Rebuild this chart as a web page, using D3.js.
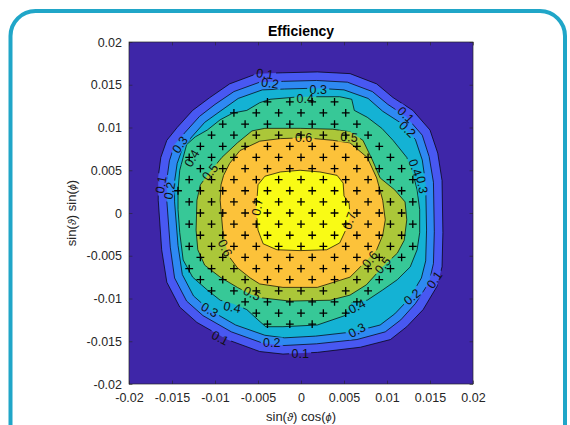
<!DOCTYPE html>
<html>
<head>
<meta charset="utf-8">
<script src="https://cdn.jsdelivr.net/npm/d3@7"></script>
<style>
body { margin: 0; background: #fff; }
text { font-family: "Liberation Sans", Arial, Helvetica, sans-serif; }
</style>
</head>
<body>
<svg id="chart" width="570" height="425"></svg>
<script>
// contour levels and the parula colour of each filled band (below 0.1 ... above 0.7)
const levels = [0.1, 0.2, 0.3, 0.4, 0.5, 0.6, 0.7];
const bandColors = ["#3e26a8", "#4858f2", "#2e89f2", "#14b2d4", "#37c897", "#abc739", "#fcc23a", "#f9fb15"];

// contour lines, [sin(t)cos(p), sin(t)sin(p)]
const contour01 = [[-0.0051,0.0163],[-0.0021,0.0164],[0.0019,0.0165],[0.0057,0.0163],[0.0088,0.0151],[0.0107,0.0135],
  [0.0130,0.0120],[0.0150,0.0097],[0.0159,0.0070],[0.0164,0.0038],[0.0165,-0.0023],[0.0164,-0.0063],[0.0158,-0.0086],
  [0.0142,-0.0113],[0.0123,-0.0133],[0.0104,-0.0148],[0.0069,-0.0157],[0.0019,-0.0163],[-0.0021,-0.0165],[-0.0048,-0.0162],
  [-0.0086,-0.0148],[-0.0121,-0.0128],[-0.0141,-0.0110],[-0.0156,-0.0081],[-0.0162,-0.0043],[-0.0166,0.0015],[-0.0166,0.0042],
  [-0.0163,0.0065],[-0.0156,0.0085],[-0.0144,0.0100],[-0.0126,0.0120],[-0.0106,0.0135],[-0.0083,0.0151]];
const contour02 = [[-0.0048,0.0153],[-0.0020,0.0154],[0.0018,0.0155],[0.0054,0.0153],[0.0083,0.0142],[0.0101,0.0127],
  [0.0122,0.0113],[0.0141,0.0091],[0.0149,0.0066],[0.0154,0.0036],[0.0155,-0.0022],[0.0154,-0.0059],[0.0149,-0.0081],
  [0.0133,-0.0106],[0.0116,-0.0125],[0.0098,-0.0139],[0.0065,-0.0148],[0.0018,-0.0153],[-0.0020,-0.0155],[-0.0045,-0.0152],
  [-0.0081,-0.0139],[-0.0114,-0.0120],[-0.0133,-0.0103],[-0.0147,-0.0076],[-0.0152,-0.0040],[-0.0156,0.0014],[-0.0156,0.0039],
  [-0.0153,0.0061],[-0.0147,0.0080],[-0.0135,0.0094],[-0.0118,0.0113],[-0.0100,0.0127],[-0.0078,0.0142]];
const contour03 = [[-0.0045,0.0144],[-0.0019,0.0145],[0.0017,0.0146],[0.0050,0.0144],[0.0078,0.0134],[0.0095,0.0119],
  [0.0115,0.0106],[0.0133,0.0086],[0.0141,0.0062],[0.0145,0.0034],[0.0146,-0.0020],[0.0145,-0.0056],[0.0140,-0.0076],
  [0.0126,-0.0100],[0.0109,-0.0118],[0.0092,-0.0131],[0.0061,-0.0139],[0.0017,-0.0144],[-0.0019,-0.0146],[-0.0042,-0.0143],
  [-0.0076,-0.0131],[-0.0107,-0.0113],[-0.0125,-0.0097],[-0.0138,-0.0072],[-0.0143,-0.0038],[-0.0147,0.0013],[-0.0147,0.0037],
  [-0.0144,0.0058],[-0.0138,0.0075],[-0.0127,0.0089],[-0.0112,0.0106],[-0.0094,0.0119],[-0.0073,0.0134]];
const contour04 = [[-0.0143,0.0004],[-0.0143,0.0027],[-0.0141,0.0050],[-0.0137,0.0065],[-0.0133,0.0080],[-0.0123,0.0089],
  [-0.0109,0.0097],[-0.0094,0.0109],[-0.0079,0.0117],[-0.0063,0.0120],[-0.0048,0.0129],[-0.0036,0.0133],[-0.0001,0.0136],
  [0.0045,0.0136],[0.0059,0.0133],[0.0062,0.0120],[0.0077,0.0112],[0.0094,0.0099],[0.0107,0.0085],[0.0123,0.0065],
  [0.0130,0.0047],[0.0135,0.0027],[0.0138,0.0004],[0.0138,-0.0023],[0.0135,-0.0043],[0.0127,-0.0063],[0.0112,-0.0078],
  [0.0095,-0.0090],[0.0077,-0.0102],[0.0059,-0.0105],[0.0051,-0.0120],[0.0019,-0.0131],[-0.0021,-0.0133],[-0.0041,-0.0133],
  [-0.0050,-0.0125],[-0.0063,-0.0113],[-0.0079,-0.0106],[-0.0094,-0.0102],[-0.0109,-0.0090],[-0.0126,-0.0075],
  [-0.0137,-0.0055],[-0.0141,-0.0023]];
const contour05 = [[-0.0121,0.0015],[-0.0117,0.0033],[-0.0106,0.0048],[-0.0092,0.0065],[-0.0074,0.0082],[-0.0057,0.0096],
  [-0.0042,0.0099],[-0.0001,0.0099],[0.0037,0.0098],[0.0057,0.0095],[0.0072,0.0085],[0.0083,0.0062],[0.0092,0.0041],
  [0.0109,0.0027],[0.0121,0.0013],[0.0123,-0.0008],[0.0120,-0.0032],[0.0112,-0.0047],[0.0095,-0.0063],[0.0076,-0.0084],
  [0.0057,-0.0096],[0.0034,-0.0102],[-0.0013,-0.0103],[-0.0048,-0.0099],[-0.0059,-0.0095],[-0.0074,-0.0087],
  [-0.0094,-0.0075],[-0.0112,-0.0061],[-0.0120,-0.0043],[-0.0122,-0.0020]];
const contour06 = [[-0.0094,0.0015],[-0.0093,0.0033],[-0.0090,0.0044],[-0.0083,0.0058],[-0.0071,0.0073],[-0.0048,0.0084],
  [-0.0024,0.0087],[0.0005,0.0088],[0.0037,0.0085],[0.0057,0.0082],[0.0077,0.0065],[0.0088,0.0041],[0.0095,0.0015],
  [0.0098,-0.0008],[0.0095,-0.0026],[0.0088,-0.0043],[0.0072,-0.0060],[0.0057,-0.0075],[0.0019,-0.0087],[-0.0021,-0.0087],
  [-0.0048,-0.0083],[-0.0059,-0.0076],[-0.0074,-0.0064],[-0.0085,-0.0049],[-0.0091,-0.0020]];
const contour07 = [[-0.0050,0.0033],[-0.0042,0.0043],[-0.0024,0.0048],[-0.0001,0.0050],[0.0022,0.0048],[0.0042,0.0044],
  [0.0049,0.0035],[0.0050,0.0020],[0.0056,0.0011],[0.0057,-0.0005],[0.0052,-0.0020],[0.0045,-0.0035],[0.0030,-0.0043],
  [-0.0001,-0.0044],[-0.0028,-0.0043],[-0.0044,-0.0036],[-0.0050,-0.0020],[-0.0052,0.0004]];
const contours = [contour01, contour02, contour03, contour04, contour05, contour06, contour07];

// inline contour labels: text, position, rotation (deg)
const contourLabels = [
  ["0.1",-0.0042,0.0163,8],["0.2",-0.0036,0.0152,8],["0.3",0.0020,0.0144,0],["0.4",0.0005,0.0134,0],
  ["0.6",0.0003,0.0088,0],["0.5",0.0056,0.0089,5],["0.1",0.0122,0.0115,45],["0.2",0.0124,0.0098,45],
  ["0.4",0.0133,0.0053,70],["0.3",0.0141,0.0033,80],["0.3",-0.0141,0.0080,-55],["0.4",-0.0127,0.0064,-60],
  ["0.5",-0.0106,0.0048,-50],["0.1",-0.0163,0.0033,-80],["0.2",-0.0153,0.0026,-80],["0.3",-0.0106,-0.0113,30],
  ["0.4",-0.0080,-0.0110,12],["0.1",-0.0094,-0.0146,28],["0.6",-0.0088,-0.0041,65],["0.5",-0.0057,-0.0094,25],
  ["0.7",0.0056,-0.0009,-70],["0.6",0.0080,-0.0054,-50],["0.5",0.0095,-0.0061,-50],["0.4",0.0065,-0.0109,-28],
  ["0.3",0.0065,-0.0137,-28],["0.2",0.0129,-0.0098,-40],["0.1",0.0155,-0.0078,-55],["0.2",-0.0034,-0.0152,0],
  ["0.1",-0.0001,-0.0164,0],["0.7",-0.0051,0.0007,-80]
];

// measurement grid (checkerboard lattice) and axis ticks
const gridStep = 0.0013;
const gridIndex = d3.range(-12, 13);
const xTicks = [-0.02, -0.015, -0.01, -0.005, 0, 0.005, 0.01, 0.015, 0.02];
const yTicks = [-0.02, -0.015, -0.01, -0.005, 0, 0.005, 0.01, 0.015, 0.02];

const svg = d3.select("#chart");
const plot = {left: 129, top: 42, right: 473, bottom: 384};

// rounded frame
svg.append("rect")
  .attr("x", 10.5).attr("y", 11)
  .attr("width", 554.5).attr("height", 440)
  .attr("rx", 25)
  .attr("fill", "none")
  .attr("stroke", "#20a6c8")
  .attr("stroke-width", 4);

const x = d3.scaleLinear().domain([-0.02, 0.02]).range([plot.left, plot.right]);
const y = d3.scaleLinear().domain([-0.02, 0.02]).range([plot.bottom, plot.top]);

const defs = svg.append("defs");
defs.append("clipPath").attr("id", "plotClip")
  .append("rect")
  .attr("x", plot.left).attr("y", plot.top)
  .attr("width", plot.right - plot.left).attr("height", plot.bottom - plot.top);

// mask that opens gaps in the contour lines under the labels
const gapMask = defs.append("mask").attr("id", "labelGaps").attr("maskUnits", "userSpaceOnUse")
  .attr("x", 0).attr("y", 0).attr("width", 570).attr("height", 425);
gapMask.append("rect").attr("width", 570).attr("height", 425).attr("fill", "white");
gapMask.selectAll("rect.gap")
  .data(contourLabels)
  .join("rect")
  .classed("gap", true)
  .attr("x", -11).attr("y", -5.5)
  .attr("width", 22).attr("height", 11)
  .attr("fill", "black")
  .attr("transform", d => `translate(${x(d[1])},${y(d[2])}) rotate(${d[3]})`);

const g = svg.append("g").attr("clip-path", "url(#plotClip)");

g.append("rect")
  .attr("x", plot.left).attr("y", plot.top)
  .attr("width", plot.right - plot.left).attr("height", plot.bottom - plot.top)
  .attr("fill", bandColors[0]);

const line = d3.line()
  .x(d => x(d[0]))
  .y(d => y(d[1]))
  .curve(d3.curveLinearClosed);

g.selectAll("path.band")
  .data(contours)
  .join("path")
  .classed("band", true)
  .attr("d", line)
  .attr("fill", (d, i) => bandColors[i + 1]);

g.append("g")
  .attr("mask", "url(#labelGaps)")
  .selectAll("path")
  .data(contours)
  .join("path")
  .attr("d", line)
  .attr("fill", "none")
  .attr("stroke", "#000")
  .attr("stroke-width", 0.7);

g.selectAll("text.clabel")
  .data(contourLabels)
  .join("text")
  .classed("clabel", true)
  .attr("transform", d => `translate(${x(d[1])},${y(d[2])}) rotate(${d[3]})`)
  .attr("text-anchor", "middle")
  .attr("dy", "0.36em")
  .attr("font-size", 12.5)
  .attr("fill", "#111")
  .text(d => d[0]);

// grid points inside the 0.4 contour
let points = [];
gridIndex.forEach(i => {
  gridIndex.forEach(j => {
    let p = [i * gridStep, j * gridStep];
    if (Math.abs(i + j) % 2 === 1 && d3.polygonContains(contour04, p)) points.push(p);
  });
});

g.selectAll("path.marker")
  .data(points)
  .join("path")
  .classed("marker", true)
  .attr("d", d => `M${x(d[0]) - 3.9},${y(d[1])}h7.8M${x(d[0])},${y(d[1]) - 3.9}v7.8`)
  .attr("stroke", "#000")
  .attr("stroke-width", 1.3);

// axes box with inward ticks
const axisColor = "#262626";
function styleAxis(sel) {
  sel.select(".domain").remove();
  sel.selectAll(".tick line").attr("stroke", axisColor).attr("stroke-width", 0.6);
  sel.selectAll(".tick text").attr("fill", axisColor).attr("font-size", 12.5)
    .attr("font-family", '"Liberation Sans", Arial, Helvetica, sans-serif');
}
const fmt = d => d === 0 ? "0" : String(+d.toFixed(3));

svg.append("g").attr("transform", `translate(0,${plot.bottom})`)
  .call(d3.axisBottom(x).tickValues(xTicks).tickFormat(fmt).tickSize(-3.4).tickPadding(9.5))
  .call(styleAxis);
svg.append("g").attr("transform", `translate(0,${plot.top})`)
  .call(d3.axisTop(x).tickValues(xTicks).tickFormat("").tickSize(-3.4))
  .call(styleAxis);
svg.append("g").attr("transform", `translate(${plot.left},0)`)
  .call(d3.axisLeft(y).tickValues(yTicks).tickFormat(fmt).tickSize(-3.4).tickPadding(7))
  .call(styleAxis);
svg.append("g").attr("transform", `translate(${plot.right},0)`)
  .call(d3.axisRight(y).tickValues(yTicks).tickFormat("").tickSize(-3.4))
  .call(styleAxis);

svg.append("rect")
  .attr("x", plot.left).attr("y", plot.top)
  .attr("width", plot.right - plot.left).attr("height", plot.bottom - plot.top)
  .attr("fill", "none")
  .attr("stroke", axisColor)
  .attr("stroke-width", 0.7);

// title and axis labels
svg.append("text")
  .attr("x", (plot.left + plot.right) / 2).attr("y", 36)
  .attr("text-anchor", "middle")
  .attr("font-size", 14)
  .attr("font-weight", "bold")
  .attr("fill", "#000")
  .text("Efficiency");

const xLabel = svg.append("text")
  .attr("x", (plot.left + plot.right) / 2).attr("y", 421)
  .attr("text-anchor", "middle")
  .attr("font-size", 13)
  .attr("fill", axisColor);
xLabel.append("tspan").text("sin(");
xLabel.append("tspan").attr("font-style", "italic").attr("font-size", 11).text("ϑ");
xLabel.append("tspan").text(") cos(");
xLabel.append("tspan").attr("font-style", "italic").attr("font-size", 11).text("ϕ");
xLabel.append("tspan").text(")");

const yLabel = svg.append("text")
  .attr("transform", `translate(76,${(plot.top + plot.bottom) / 2}) rotate(-90)`)
  .attr("text-anchor", "middle")
  .attr("font-size", 13)
  .attr("fill", axisColor);
yLabel.append("tspan").text("sin(");
yLabel.append("tspan").attr("font-style", "italic").attr("font-size", 11).text("ϑ");
yLabel.append("tspan").text(") sin(");
yLabel.append("tspan").attr("font-style", "italic").attr("font-size", 11).text("ϕ");
yLabel.append("tspan").text(")");
</script>
</body>
</html>
